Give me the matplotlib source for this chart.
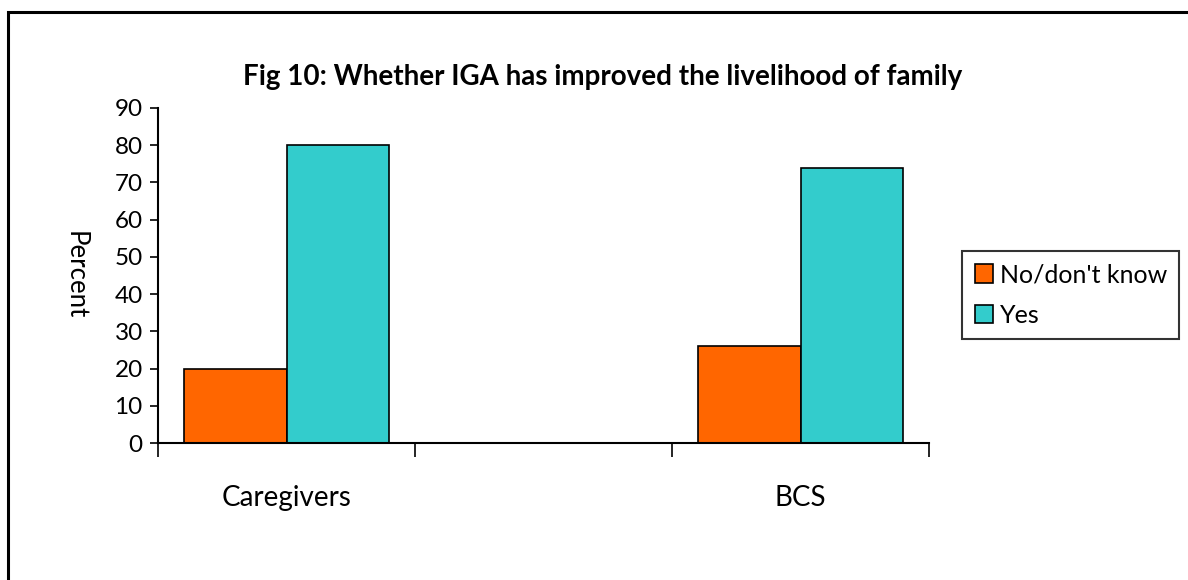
import matplotlib
matplotlib.use("Agg")
import matplotlib.pyplot as plt
from matplotlib.patches import Rectangle
import numpy as np

# Survey responses, percent of respondents per group.
# The middle slot is left blank, as in the original workbook layout.
groups = ["Caregivers", "", "BCS"]
no_dont_know = [20, np.nan, 26]
yes = [80, np.nan, 74]
series_names = ["No/don't know", "Yes"]
y_ticks = list(range(0, 100, 10))

ORANGE = "#FF6600"
TEAL = "#33CCCC"

plt.rcParams["font.family"] = ["Lato", "DejaVu Sans"]

fig = plt.figure(figsize=(11.88, 5.8), dpi=100)
ax = fig.add_axes([158 / 1188, 1 - 443 / 580, 771 / 1188, 335 / 580])

x = np.arange(len(groups))
bw = 0.4
ax.bar(x - bw / 2, no_dont_know, width=bw, color=ORANGE, edgecolor="black",
       linewidth=1.2, label=series_names[0])
ax.bar(x + bw / 2, yes, width=bw, color=TEAL, edgecolor="black",
       linewidth=1.2, label=series_names[1])

ax.set_xlim(-0.5, len(groups) - 0.5)
ax.set_ylim(0, 90)
ax.set_yticks(y_ticks)
ax.tick_params(axis="y", labelsize=17.5, length=6, width=1.2, direction="out",
               pad=5)

# tick marks sit on category boundaries, labels sit under the centres
ax.set_xticks(np.arange(len(groups) + 1) - 0.5)
ax.set_xticklabels([])
ax.set_xticks(x, minor=True)
ax.set_xticklabels(groups, minor=True, fontsize=20)
ax.tick_params(axis="x", which="major", length=10, width=1.2, direction="out")
ax.tick_params(axis="x", which="minor", length=0, pad=30)

for side in ("top", "right"):
    ax.spines[side].set_visible(False)
for side in ("left", "bottom"):
    ax.spines[side].set_linewidth(1.5)

ax.set_ylabel("Percent", rotation=270, fontsize=18.5, va="center")
ax.yaxis.set_label_coords((75 - 158) / 771, 0.5)

fig.text(603 / 1188, 1 - 77 / 580,
         "Fig 10: Whether IGA has improved the livelihood of family",
         ha="center", va="center", fontsize=20, fontweight="bold")

leg = ax.legend(loc="center left", bbox_to_anchor=(962 / 1188, 1 - 295 / 580),
                bbox_transform=fig.transFigure, fontsize=18, frameon=True,
                fancybox=False, edgecolor="black", handlelength=0.75,
                handleheight=0.75, handletextpad=0.25, labelspacing=0.7,
                borderpad=0.5, borderaxespad=0)
leg.get_frame().set_linewidth(1.5)

# outer chart border (runs off the right and bottom edges)
fig.patches.append(Rectangle((8 / 1188, -0.1), 1.2, 1 - 12 / 580 + 0.1,
                             transform=fig.transFigure, fill=False,
                             edgecolor="black", linewidth=2.2))

fig.savefig("out.png", dpi=100)
